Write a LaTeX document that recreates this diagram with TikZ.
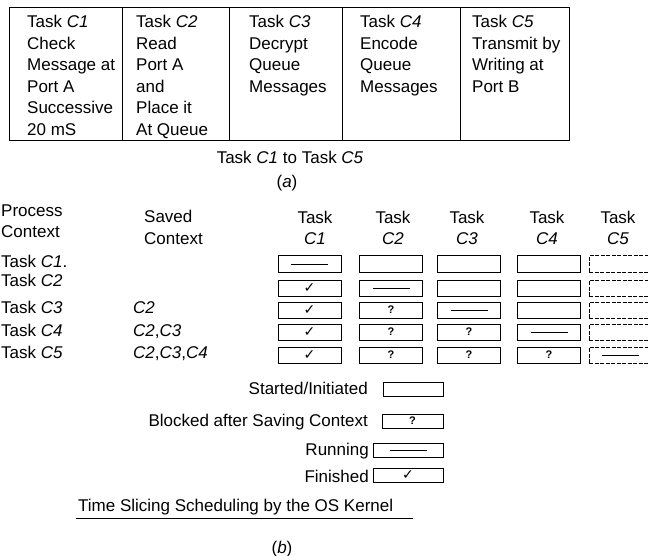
\documentclass[tikz,border=0pt]{standalone}
\usepackage{fontspec}
\setmainfont{Liberation Sans}
\newfontfamily\symfont{DejaVu Sans}
\begin{document}
\begin{tikzpicture}[x=1pt,y=-1pt,
  every node/.style={inner sep=0pt, font=\fontsize{17}{21.5}\selectfont},
  lbl/.style={anchor=base west},
  rlbl/.style={anchor=base east},
  ctr/.style={anchor=base},
  cell/.style={anchor=north west, align=left},
  frame/.style={line width=1pt},
  tbox/.style={draw, line width=1pt, minimum width=63pt, minimum height=16pt},
  dbox/.style={tbox, dash pattern=on 4pt off 1.5pt},
  run/.style={line width=1pt},
  chk/.style={font=\symfont\fontsize{14}{14}\selectfont},
  qm/.style={font=\fontsize{11}{11}\selectfont\bfseries}]
\useasboundingbox (0,0) rectangle (648,556);

% ---------- (a) table ----------
\draw[frame] (9,8) rectangle (569,141);
\foreach \x in {122,229,342,460} \draw[frame] (\x,8) -- (\x,141);
\node[cell] (t1) at (27,15) {Task \textit{C1}\\Check\\Message at\\Port A\\Successive\\20 mS};
\node[cell] (t2) at (136,15) {Task \textit{C2}\\Read\\Port A\\and\\Place it\\At Queue};
\node[cell] (t3) at (249,15) {Task \textit{C3}\\Decrypt\\Queue\\Messages};
\node[cell] (t4) at (360,15) {Task \textit{C4}\\Encode\\Queue\\Messages};
\node[cell] (t5) at (472,15) {Task \textit{C5}\\Transmit by\\Writing at\\Port B};
\node[ctr] (capa) at (290,164) {Task \textit{C1} to Task \textit{C5}};
\node[ctr] (laba) at (287,188) {(\textit{a})};

% ---------- (b) headers ----------
\node[lbl] (hp1) at (1,217) {Process};
\node[lbl] (hp2) at (1,238) {Context};
\node[lbl] (hs1) at (144,223) {Saved};
\node[lbl] (hs2) at (144,244) {Context};
\foreach \c/\xx in {1/315,2/393,3/467,4/547,5/618}{
  \node[ctr] (ht\c) at (\xx,224) {Task};
  \node[ctr] (hc\c) at (\xx,245) {\textit{C\c}};
}

% row labels
\node[lbl] (r1) at (1,267) {Task \textit{C1}.};
\node[lbl] (r2) at (1,287) {Task \textit{C2}};
\node[lbl] (r3) at (1,313) {Task \textit{C3}};
\node[lbl] (r4) at (1,336) {Task \textit{C4}};
\node[lbl] (r5) at (1,358) {Task \textit{C5}};
\node[lbl] (s3) at (133,313) {\textit{C2}};
\node[lbl] (s4) at (133,336) {\textit{C2},\textit{C3}};
\node[lbl] (s5) at (133,358) {\textit{C2},\textit{C3},\textit{C4}};

% state boxes
\begin{scope}
\clip (0,0) rectangle (648,556);
\foreach \r/\yy in {1/264,2/288,3/310,4/332,5/355}{
  \foreach \c/\xx in {1/309.5,2/391,3/469,4/549,5/620.5}{
    \ifnum\c=5
      \node[dbox] (b\r\c) at (\xx,\yy) {};
    \else
      \node[tbox] (b\r\c) at (\xx,\yy) {};
    \fi
    \ifnum\c<\r
      \ifnum\c=1
        \node[chk] (m\r\c) at (b\r\c.center) {✓};
      \else
        \node[qm] (m\r\c) at (b\r\c.center) {?};
      \fi
    \fi
    \ifnum\c=\r
      \draw[run] ([xshift=-18.5pt]b\r\c.center) -- ([xshift=18.5pt]b\r\c.center);
    \fi
  }
}
\end{scope}

% ---------- legend ----------
\node[rlbl] (lst) at (368,394) {Started/Initiated};
\node[tbox, minimum width=60pt, minimum height=14pt] (kst) at (413,389) {};
\node[rlbl] (lbl2) at (368,426) {Blocked after Saving Context};
\node[tbox, minimum width=61pt, minimum height=14pt] (kbl) at (412.5,421) {};
\node[qm] (kq) at (kbl.center) {?};
\node[rlbl] (lru) at (369,455) {Running};
\node[tbox, minimum width=70pt, minimum height=14pt] (kru) at (408,450) {};
\draw[run] ([xshift=-18.5pt]kru.center) -- ([xshift=18.5pt]kru.center);
\node[rlbl] (lfi) at (369,482) {Finished};
\node[tbox, minimum width=70pt, minimum height=14pt] (kfi) at (408,475) {};
\node[chk] (kc) at (kfi.center) {✓};

\node[lbl] (title) at (78,511) {Time Slicing Scheduling by the OS Kernel};
\coordinate (ul1) at (76,518);
\coordinate (ul2) at (413,518);
\draw[line width=1pt] (ul1) -- (ul2);
\node[ctr] (labb) at (282,553) {(\textit{b})};
\end{tikzpicture}
\end{document}
